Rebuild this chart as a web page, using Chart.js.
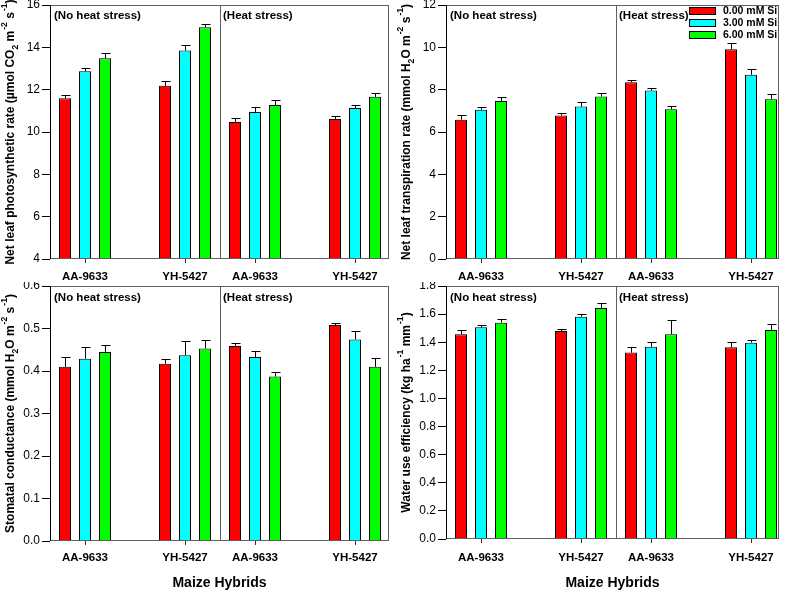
<!DOCTYPE html>
<html lang="en">
<head>
<meta charset="UTF-8">
<title>Maize hybrids - Si and heat stress</title>
<script src="https://cdn.jsdelivr.net/npm/chart.js"></script>
<style>
    body { margin: 0; background: #fff; }
    .wrap { position: relative; width: 787px; height: 592px; overflow: hidden; }
    canvas { position: absolute; }
</style>
</head>
<body>
<div class="wrap">
    <!-- each panel: a "no heat" chart with the y axis, and a "heat" chart laid over its right part -->
    <canvas id="pnN" width="393" height="282" style="left:0;top:0"></canvas>
    <canvas id="pnH" width="173" height="282" style="left:220px;top:0"></canvas>
    <canvas id="trN" width="394" height="282" style="left:393px;top:0"></canvas>
    <canvas id="trH" width="171" height="282" style="left:616px;top:0"></canvas>
    <canvas id="gsN" width="393" height="310" style="left:0;top:282px"></canvas>
    <canvas id="gsH" width="173" height="310" style="left:220px;top:282px"></canvas>
    <canvas id="wueN" width="394" height="310" style="left:393px;top:282px"></canvas>
    <canvas id="wueH" width="171" height="310" style="left:616px;top:282px"></canvas>
</div>
<script>
const FONT = 'Arial, "Liberation Sans", sans-serif';

const hybrids = ['AA-9633', 'YH-5427'];
const siLevels = ['0.00 mM Si', '3.00 mM Si', '6.00 mM Si'];
const siColors = ['#ff0000', '#00ffff', '#00ff00'];
const stressLabels = ['(No heat stress)', '(Heat stress)'];

// rows = Si level, columns = hybrid
const pnNoHeat = [[11.60, 12.18], [12.87, 13.85], [13.48, 14.95]];
const pnNoHeatErr = [[0.15, 0.24], [0.14, 0.26], [0.27, 0.15]];
const pnHeat = [[10.47, 10.62], [10.94, 11.13], [11.27, 11.66]];
const pnHeatErr = [[0.18, 0.14], [0.22, 0.14], [0.25, 0.17]];

const trNoHeat = [[6.58, 6.78], [7.05, 7.20], [7.46, 7.68]];
const trNoHeatErr = [[0.20, 0.13], [0.15, 0.21], [0.20, 0.18]];
const trHeat = [[8.35, 9.91], [7.96, 8.70], [7.08, 7.55]];
const trHeatErr = [[0.11, 0.28], [0.11, 0.30], [0.14, 0.24]];

const gsNoHeat = [[0.410, 0.417], [0.429, 0.437], [0.445, 0.453]];
const gsNoHeatErr = [[0.024, 0.012], [0.027, 0.034], [0.017, 0.021]];
const gsHeat = [[0.459, 0.508], [0.433, 0.474], [0.387, 0.410]];
const gsHeatErr = [[0.008, 0.006], [0.013, 0.019], [0.011, 0.020]];

const wueNoHeat = [[1.457, 1.480], [1.506, 1.582], [1.539, 1.644]];
const wueNoHeatErr = [[0.030, 0.017], [0.014, 0.021], [0.029, 0.035]];
const wueHeat = [[1.326, 1.364], [1.367, 1.397], [1.457, 1.487]];
const wueHeatErr = [[0.043, 0.036], [0.037, 0.022], [0.101, 0.041]];

// y axis titles: [text, 0 normal / 1 superscript / -1 subscript]
const pnTitle = [['Net leaf photosynthetic rate (\u00b5mol CO', 0], ['2', -1], [' m', 0], ['-2', 1], [' s', 0], ['-1', 1], [')', 0]];
const trTitle = [['Net leaf transpiration rate (mmol H', 0], ['2', -1], ['O m', 0], ['-2', 1], [' s', 0], ['-1', 1], [')', 0]];
const gsTitle = [['Stomatal conductance (mmol H', 0], ['2', -1], ['O m', 0], ['-2', 1], [' s', 0], ['-1', 1], [')', 0]];
const wueTitle = [['Water use efficiency (kg ha', 0], ['-1', 1], [' mm', 0], ['-1', 1], [')', 0]];
const xTitle = 'Maize Hybrids';

// rich text, rotated, centred on (cx, cy)
function drawRich(ctx, parts, cx, cy, size) {
    ctx.save();
    ctx.translate(cx, cy);
    ctx.rotate(-Math.PI / 2);
    ctx.textBaseline = 'middle';
    ctx.textAlign = 'left';
    let total = 0;
    const widths = parts.map(p => {
        ctx.font = 'bold ' + (p[1] ? size * 0.72 : size) + 'px ' + FONT;
        const w = ctx.measureText(p[0]).width + (p[1] === 1 ? 1 : 0);
        total += w;
        return w;
    });
    let x = -total / 2;
    parts.forEach((p, i) => {
        ctx.font = 'bold ' + (p[1] ? size * 0.72 : size) + 'px ' + FONT;
        const dy = p[1] === 1 ? -size * 0.55 : p[1] === -1 ? size * 0.35 : 0;
        ctx.fillText(p[0], x + (p[1] === 1 ? 1 : 0), dy);
        x += widths[i];
    });
    ctx.restore();
}

const decor = {
    id: 'decor',
    afterDatasetsDraw(chart, args, o) {
        const ctx = chart.ctx;
        const a = chart.chartArea;
        const y = chart.scales.y;

        // error bars (upper only)
        ctx.save();
        ctx.strokeStyle = '#000';
        ctx.lineWidth = 1;
        chart.data.datasets.forEach((ds, di) => {
            const meta = chart.getDatasetMeta(di);
            meta.data.forEach((bar, j) => {
                const px = Math.round(bar.x) + 0.5;
                const top = Math.round(y.getPixelForValue(ds.data[j].y + ds.errors[j])) + 0.5;
                ctx.beginPath();
                ctx.moveTo(px, bar.y);
                ctx.lineTo(px, top);
                ctx.moveTo(px - 4, top);
                ctx.lineTo(px + 5, top);
                ctx.stroke();
            });
        });

        // frame
        ctx.strokeStyle = '#606060';
        ctx.beginPath();
        ctx.moveTo(a.left, a.top + 0.5);
        ctx.lineTo(a.right, a.top + 0.5);
        ctx.moveTo(a.left, a.bottom - 0.5);
        ctx.lineTo(a.right, a.bottom - 0.5);
        if (o.stress === 1) {
            ctx.moveTo(a.left + 0.5, a.top);
            ctx.lineTo(a.left + 0.5, a.bottom);
            ctx.moveTo(a.right - 0.5, a.top);
            ctx.lineTo(a.right - 0.5, a.bottom);
        }
        ctx.stroke();
        if (o.stress === 0) {
            ctx.strokeStyle = '#000';
            ctx.beginPath();
            ctx.moveTo(a.left + 0.5, a.top);
            ctx.lineTo(a.left + 0.5, a.bottom);
            ctx.stroke();
        }

        // sub-panel label
        ctx.fillStyle = '#000';
        ctx.font = 'bold 11.5px ' + FONT;
        ctx.textBaseline = 'middle';
        ctx.textAlign = 'left';
        ctx.fillText(stressLabels[o.stress], a.left + (o.stress ? 3 : 4), a.top + o.labelDy);

        // legend
        if (o.legend) {
            ctx.font = 'bold 10.5px ' + FONT;
            chart.data.datasets.forEach((ds, i) => {
                const ly = a.top + 2 + i * 12;
                ctx.fillStyle = ds.backgroundColor;
                ctx.fillRect(a.right - 90, ly, 27, 8);
                ctx.strokeStyle = '#000';
                ctx.strokeRect(a.right - 89.5, ly + 0.5, 26, 7);
                ctx.fillStyle = '#000';
                ctx.fillText(ds.label, a.right - 56, ly + 4.5);
            });
        }

        // axis titles (drawn once, by the no-heat chart)
        if (o.title) {
            drawRich(ctx, o.title, a.left - 39, (a.top + a.bottom) / 2, 12);
        }
        if (o.xTitle) {
            ctx.font = 'bold 14px ' + FONT;
            ctx.textAlign = 'center';
            ctx.fillText(xTitle, (a.left + a.right + o.heatWidth) / 2, o.xTitleY);
        }
        ctx.restore();
    }
};

function xAxis(width, pad, height) {
    // 100 px per hybrid step, first hybrid 35 px from the sub-panel edge
    return {
        type: 'linear',
        position: 'bottom',
        min: 0.65,
        max: 0.65 + width / 100,
        offset: false,
        afterBuildTicks: s => { s.ticks = hybrids.map((h, j) => ({ value: j + 1 })); },
        afterFit: s => { s.height = height; s.paddingLeft = 0; s.paddingRight = 0; },
        grid: { display: true, drawOnChartArea: false, offset: false, tickLength: 4, color: '#333' },
        border: { display: false },
        ticks: {
            autoSkip: false,
            maxRotation: 0,
            padding: pad,
            color: '#000',
            font: { family: FONT, size: 11.5, weight: 'bold' },
            callback: v => hybrids[v - 1]
        }
    };
}

function subChart(id, p, stress) {
    const vals = stress ? p.heat : p.noHeat;
    const errs = stress ? p.heatErr : p.noHeatErr;
    const width = stress ? p.heatWidth : 170;
    const datasets = siLevels.map((s, i) => ({
        label: s,
        data: hybrids.map((h, j) => ({ x: j + 1, y: vals[i][j] })),
        errors: errs[i],
        backgroundColor: siColors[i],
        borderColor: '#000',
        borderWidth: 1,
        barPercentage: 0.6,
        categoryPercentage: 0.6
    }));

    return new Chart(document.getElementById(id), {
        type: 'bar',
        data: { datasets },
        options: {
            responsive: false,
            animation: false,
            events: [],
            layout: {
                autoPadding: false,
                padding: { left: 0, top: p.padTop, right: p.padRight + (stress ? 0 : p.heatWidth), bottom: 0 }
            },
            plugins: {
                legend: { display: false },
                tooltip: { enabled: false },
                decor: {
                    stress,
                    title: stress ? null : p.title,
                    legend: stress === 1 && p.legend,
                    xTitle: stress === 0 && p.xTitle,
                    xTitleY: p.xTitleY,
                    heatWidth: p.heatWidth,
                    labelDy: p.labelDy
                }
            },
            scales: {
                x: xAxis(width, p.xPad, p.xHeight),
                y: {
                    display: stress === 0,
                    min: p.yMin,
                    max: p.yMax,
                    afterFit: s => { s.width = stress ? 0 : p.yWidth; s.paddingTop = 0; s.paddingBottom = 0; },
                    grid: { display: true, drawOnChartArea: false, tickLength: 8, color: '#000' },
                    border: { display: false },
                    ticks: {
                        stepSize: p.yStep,
                        padding: 2,
                        color: '#000',
                        font: { family: FONT, size: 12 },
                        callback: v => v.toFixed(p.decimals)
                    }
                }
            }
        },
        plugins: [decor]
    });
}

function makePanel(name, p) {
    subChart(name + 'N', p, 0);
    subChart(name + 'H', p, 1);
}

makePanel('pn', {
    noHeat: pnNoHeat, noHeatErr: pnNoHeatErr, heat: pnHeat, heatErr: pnHeatErr,
    yMin: 4, yMax: 16, yStep: 2, decimals: 0, title: pnTitle,
    yWidth: 50, padTop: 5, padRight: 4, xHeight: 23, xPad: 7, heatWidth: 169, labelDy: 11
});
makePanel('tr', {
    noHeat: trNoHeat, noHeatErr: trNoHeatErr, heat: trHeat, heatErr: trHeatErr,
    yMin: 0, yMax: 12, yStep: 2, decimals: 0, title: trTitle, legend: true,
    yWidth: 53, padTop: 5, padRight: 8, xHeight: 23, xPad: 7, heatWidth: 163, labelDy: 11
});
makePanel('gs', {
    noHeat: gsNoHeat, noHeatErr: gsNoHeatErr, heat: gsHeat, heatErr: gsHeatErr,
    yMin: 0, yMax: 0.6, yStep: 0.1, decimals: 1, title: gsTitle, xTitle: true, xTitleY: 301,
    yWidth: 50, padTop: 4, padRight: 4, xHeight: 51, xPad: 6, heatWidth: 169, labelDy: 12
});
makePanel('wue', {
    noHeat: wueNoHeat, noHeatErr: wueNoHeatErr, heat: wueHeat, heatErr: wueHeatErr,
    yMin: 0, yMax: 1.8, yStep: 0.2, decimals: 1, title: wueTitle, xTitle: true, xTitleY: 301,
    yWidth: 53, padTop: 4, padRight: 8, xHeight: 53, xPad: 8, heatWidth: 163, labelDy: 12
});
</script>
</body>
</html>
